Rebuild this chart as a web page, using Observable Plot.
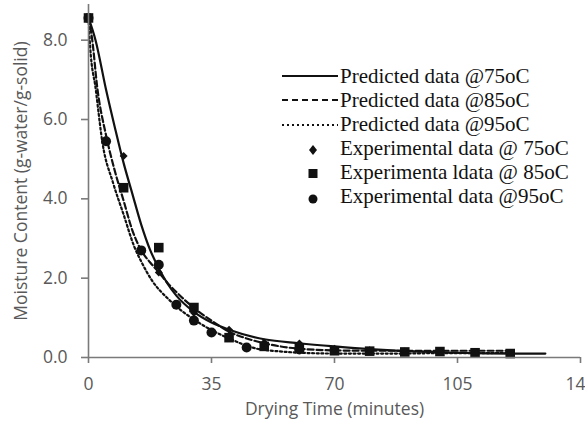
<!DOCTYPE html>
<html><head><meta charset="utf-8">
<script src="https://cdn.jsdelivr.net/npm/d3@7"></script>
<script src="https://cdn.jsdelivr.net/npm/@observablehq/plot@0.6"></script>
<style>
body{margin:0;background:#fff;}
#wrap{position:relative;width:585px;height:421px;overflow:hidden;background:#fff;}
#wrap svg.plot{display:block;}
.lg{position:absolute;left:282px;height:24px;width:300px;font-family:"Liberation Serif","Times New Roman",serif;font-size:21px;line-height:24px;color:#111;white-space:nowrap;}
.lg svg{position:absolute;left:0;top:0;}
.lg span{position:absolute;left:58px;top:0;}
</style></head><body><div id="wrap"></div>
<script>
// Experimental data (time in minutes, moisture content g-water/g-solid)
const expTime75 = [0,10,20,30,40,50,60,70,80,90,100,110,120];
const expMC75   = [8.56,5.08,2.14,1.13,0.70,0.38,0.35,0.22,0.18,0.15,0.14,0.12,0.10];
const expTime85 = [0,10,20,30,40,50,60,70,80,90,100,110,120];
const expMC85   = [8.56,4.28,2.77,1.26,0.50,0.28,0.23,0.17,0.16,0.14,0.15,0.12,0.10];
const expTime95 = [0,5,15,20,25,30,35,45,60];
const expMC95   = [8.56,5.45,2.70,2.34,1.33,0.93,0.63,0.25,0.20];
// Predicted curves
const predTime75 = [0,2,5,7.5,10,12.5,15,17.5,20,22.5,25,30,35,40,50,60,70,80,90,100,110,120,130];
const predMC75   = [8.56,8.0,6.75,5.8,4.9,4.12,3.35,2.72,2.25,1.86,1.56,1.15,0.88,0.70,0.46,0.36,0.28,0.21,0.16,0.13,0.11,0.10,0.10];
const predTime85 = [0,1,2.5,5,7.5,10,12.5,15,17.5,20,22.5,25,30,35,40,45,50,60,70,80,90,100,110,120];
const predMC85   = [8.56,8.05,6.8,5.6,4.7,3.95,3.2,2.7,2.4,2.15,1.88,1.65,1.25,0.93,0.65,0.48,0.36,0.22,0.18,0.17,0.17,0.17,0.17,0.17];
const predTime95 = [0,0.5,2,4,7,10,13,15,18,23,31,40,48,55,60,70,80,90,100,110,120];
const predMC95   = [8.56,7.8,6.8,5.4,4.4,3.6,2.8,2.42,1.95,1.45,0.9,0.48,0.22,0.15,0.12,0.10,0.10,0.10,0.11,0.11,0.12];
// Axes
const xTicks = [0,35,70,105,140];
const yTicks = [0,2,4,6,8];
const xTitle = "Drying Time (minutes)";
const yTitle = "Moisture Content (g-water/g-solid)";
const legendLabels = ["Predicted data @75oC","Predicted data @85oC","Predicted data @95oC","Experimental data @ 75oC","Experimenta ldata @ 85oC","Experimental data @95oC"];

const pts = (ts, vs) => ts.map((t,i)=>({t, v: vs[i]}));
const p75 = pts(predTime75, predMC75), p85 = pts(predTime85, predMC85), p95 = pts(predTime95, predMC95);
const e75 = pts(expTime75, expMC75), e85 = pts(expTime85, expMC85), e95 = pts(expTime95, expMC95);

const axisCol = "#7a7a7a", textCol = "#595959";
const fontAxis = "'Open Sans', sans-serif";

const chart = Plot.plot({
  width: 585, height: 421,
  marginLeft: 88, marginRight: 5, marginTop: 0, marginBottom: 64,
  style: {fontFamily: fontAxis, background: "#fff", overflow: "visible"},
  x: {domain: [0,140]},
  y: {domain: [0,9]},
  marks: [
    Plot.line(p95, {x:"t", y:"v", stroke:"#111", strokeWidth:2.2, strokeDasharray:"2,2.6", curve:"monotone-x"}),
    Plot.line(p85, {x:"t", y:"v", stroke:"#111", strokeWidth:2.2, strokeDasharray:"6,3", curve:"monotone-x"}),
    Plot.line(p75, {x:"t", y:"v", stroke:"#111", strokeWidth:2.2, curve:"monotone-x"}),
    Plot.dot(e95, {x:"t", y:"v", symbol:"circle", r:5, fill:"#111", stroke:"none"}),
    Plot.dot(e85, {x:"t", y:"v", symbol:"square", r:5.4, fill:"#111", stroke:"none"}),
    Plot.dot(e75, {x:"t", y:"v", symbol:"diamond2", r:3.6, fill:"#111", stroke:"none"}),
    Plot.ruleY([0], {stroke: axisCol, strokeWidth: 1.6}),
    Plot.ruleX([0], {y1: 0, y2: 8.9, stroke: axisCol, strokeWidth: 1.6}),
    Plot.axisX({ticks: xTicks, tickSize: 6, tickPadding: 14, tickFormat: d => String(d), stroke: axisCol, strokeWidth: 1.6, fill: textCol, fontSize: 17.5, label: null}),
    Plot.axisY({ticks: yTicks, tickSize: 7, tickPadding: 14, tickFormat: d3.format(".1f"), stroke: axisCol, strokeWidth: 1.6, fill: textCol, fontSize: 17.5, label: null}),
    Plot.text([xTitle], {frameAnchor: "bottom", dy: 52, fill: textCol, fontSize: 17.5, lineAnchor: "middle"}),
    Plot.text([yTitle], {frameAnchor: "left", dx: -67, dy: 2, rotate: -90, textAnchor: "middle", fill: textCol, fontSize: 17.5, lineAnchor: "middle"})
  ]
});
chart.classList.add("plot");
const wrap = document.getElementById("wrap");
wrap.appendChild(chart);

// Legend
const swatches = [
  '<line x1="0" x2="56" y1="12" y2="12" stroke="#111" stroke-width="2.2"/>',
  '<line x1="0" x2="56" y1="12" y2="12" stroke="#111" stroke-width="2.2" stroke-dasharray="6,4"/>',
  '<line x1="0" x2="56" y1="13" y2="13" stroke="#111" stroke-width="2.2" stroke-dasharray="2,3"/>',
  '<path d="M31,9 L35,14 L31,19 L27,14 Z" fill="#111"/>',
  '<rect x="26.5" y="9" width="9" height="9" fill="#111"/>',
  '<circle cx="31" cy="15" r="4.5" fill="#111"/>'
];
legendLabels.forEach((lab, i) => {
  const d = document.createElement("div");
  d.className = "lg";
  d.style.top = (64 + i*24) + "px";
  d.innerHTML = '<svg width="58" height="24">' + swatches[i] + '</svg><span></span>';
  d.querySelector("span").textContent = lab;
  wrap.appendChild(d);
});
</script>
</body></html>
